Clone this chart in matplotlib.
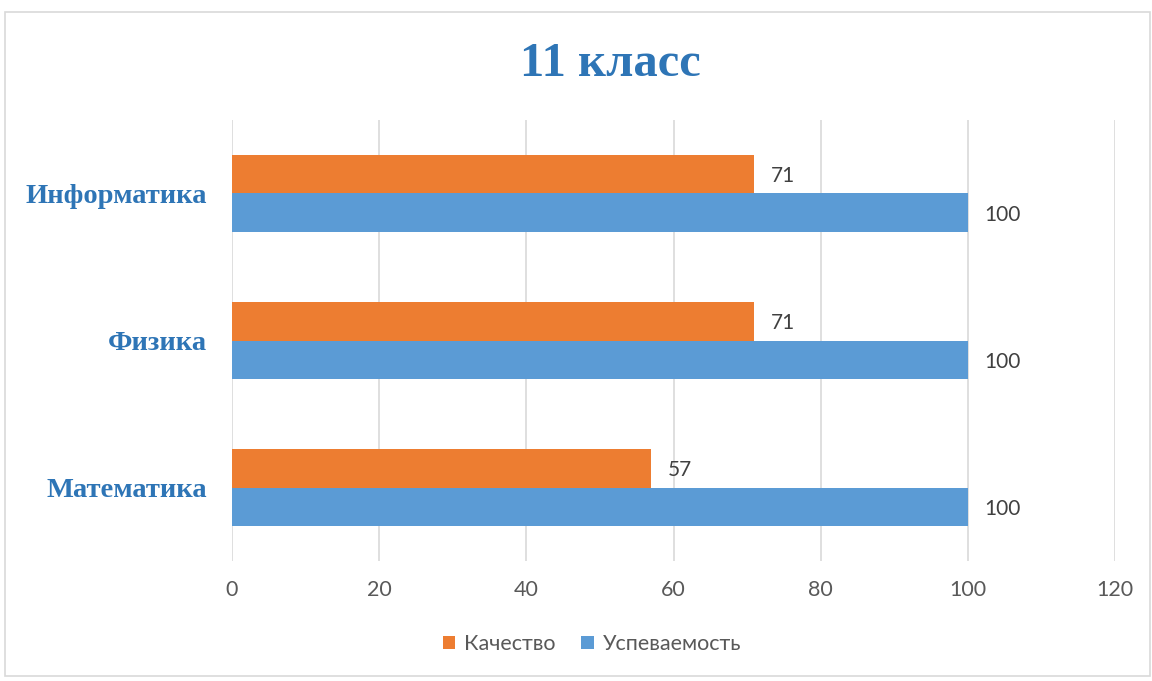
import matplotlib
matplotlib.use("Agg")
import matplotlib.pyplot as plt
from matplotlib.patches import Rectangle
import numpy as np

categories = ["Математика", "Физика", "Информатика"]
kachestvo = [57, 71, 71]
uspevaemost = [100, 100, 100]
series_names = ["Качество", "Успеваемость"]
xticks = [0, 20, 40, 60, 80, 100, 120]
title = "11 класс"

ORANGE = "#ED7D31"
BLUE = "#5B9BD5"
TITLE_BLUE = "#2E75B6"
GRAY = "#595959"

fig = plt.figure(figsize=(11.52, 6.81), dpi=100)
fig.patches.append(Rectangle((5/1152, 1-676/681), 1145/1152, 664/681, transform=fig.transFigure,
                             fill=False, edgecolor="#D9D9D9", linewidth=1.2))
ax = fig.add_axes([232/1152, 1-561/681, (1115-232)/1152, (561-120)/681])

y = np.arange(len(categories))
h = 0.26
b1 = ax.barh(y + h/2, kachestvo, height=h, color=ORANGE, label=series_names[0], zorder=3)
b2 = ax.barh(y - h/2, uspevaemost, height=h, color=BLUE, label=series_names[1], zorder=3)

for bars, vals in [(b1, kachestvo), (b2, uspevaemost)]:
    for rect, v in zip(bars, vals):
        ax.annotate(str(v), (v, rect.get_y() + rect.get_height()/2), xytext=(16, -2),
                    textcoords="offset pixels",
                    va="center", ha="left", fontsize=15, color="#404040", family="Lato")

ax.set_xlim(0, 120)
ax.set_ylim(-0.5, 2.5)
ax.set_xticks(xticks)
ax.set_xticklabels([str(t) for t in xticks], fontsize=15.5, color=GRAY, family="Lato")
ax.set_yticks(y)
ax.set_yticklabels(categories, fontsize=20.5, color=TITLE_BLUE, family="Liberation Serif", fontweight="bold")
ax.tick_params(axis="both", length=0)
ax.tick_params(axis="x", pad=14)
ax.tick_params(axis="y", pad=18)
ax.grid(axis="x", color="#D9D9D9", linewidth=1.2, zorder=0)
for s in ax.spines.values():
    s.set_visible(False)

fig.text(610/1152, 1-64/681, title, ha="center", va="center", fontsize=35,
         color=TITLE_BLUE, family="Liberation Serif", fontweight="bold")

fig.legend(handles=[b1, b2], labels=series_names, loc="center", bbox_to_anchor=(592/1152, 1-644/681),
           ncol=2, frameon=False, prop={"family": "Lato", "size": 15.5}, labelcolor=GRAY,
           handlelength=0.6, handleheight=0.6, handletextpad=0.4, columnspacing=1.2)

fig.savefig("out.png", dpi=100)
